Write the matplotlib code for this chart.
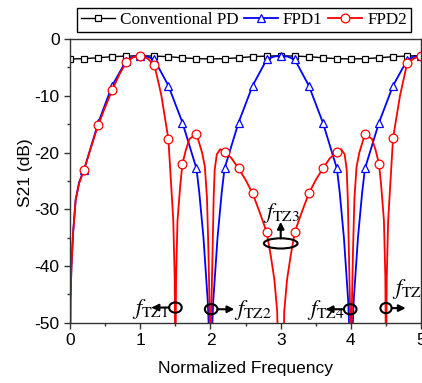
import numpy as np
import matplotlib
matplotlib.use("Agg")
import matplotlib.pyplot as plt
from matplotlib.patches import Ellipse
from matplotlib.ticker import MultipleLocator

plt.rcParams['mathtext.fontset'] = 'stix'
plt.rcParams['font.family'] = ['Liberation Sans', 'DejaVu Sans']
plt.rcParams['axes.unicode_minus'] = False

# Conventional PD, markers every 0.2
f_cpd = np.round(np.arange(0, 5.01, 0.2), 2)
s_cpd = [-3.5, -3.45, -3.3, -3.1, -3.0, -2.95, -3.0, -3.1, -3.3, -3.45,
         -3.5, -3.45, -3.3, -3.1, -3.0, -2.95, -3.0, -3.1, -3.3, -3.45,
         -3.5, -3.45, -3.3, -3.1, -3.0, -2.9]

# FPD1
f_fpd1 = [0, 0.006, 0.02, 0.043, 0.08, 0.13, 0.2, 0.4, 0.6, 0.8, 0.9, 1.0, 1.1, 1.2,
          1.4, 1.6, 1.8, 1.84, 1.9, 1.96, 1.99, 2.0, 2.01, 2.04, 2.1, 2.16, 2.2,
          2.4, 2.6, 2.8, 2.9, 3.0, 3.1, 3.2, 3.4, 3.6, 3.8, 3.84, 3.9, 3.96, 3.99,
          4.0, 4.01, 4.04, 4.1, 4.16, 4.2, 4.4, 4.6, 4.8, 4.9, 5.0]
s_fpd1 = [-60, -46, -40, -34.2, -28.3, -25.2, -23, -14.8, -8.2, -3.8, -3.1, -2.9, -3.1, -3.6,
          -8.2, -14.7, -22.8, -27, -35, -46, -55, -60, -55, -46, -35, -27, -22.8,
          -14.7, -8.2, -3.6, -3.1, -2.9, -3.1, -3.6, -8.2, -14.7, -22.8, -27, -35, -46, -55,
          -60, -55, -46, -35, -27, -22.8, -14.7, -8.2, -3.7, -3.1, -2.9]

# FPD2
f_fpd2 = [0, 0.006, 0.02, 0.043, 0.08, 0.13, 0.2, 0.3, 0.4, 0.5, 0.6, 0.7, 0.8, 0.9, 1.0,
          1.1, 1.2, 1.3, 1.4, 1.44, 1.47, 1.49, 1.5, 1.51, 1.53, 1.57, 1.6, 1.65, 1.7,
          1.8, 1.88, 1.92, 1.95, 1.97, 1.985, 2.0, 2.015, 2.03, 2.045, 2.06, 2.09, 2.14,
          2.2, 2.3, 2.4, 2.5, 2.6, 2.7, 2.8, 2.86, 2.91, 2.95, 2.97, 3.0, 3.03, 3.05,
          3.09, 3.14, 3.2, 3.3, 3.4, 3.5, 3.6, 3.7, 3.8, 3.86, 3.91, 3.94, 3.955, 3.97,
          3.985, 4.0, 4.015, 4.03, 4.05, 4.08, 4.12, 4.2, 4.3, 4.35, 4.4, 4.43, 4.47,
          4.49, 4.5, 4.51, 4.53, 4.56, 4.6, 4.7, 4.8, 4.9, 5.0]
s_fpd2 = [-60, -46, -40, -34.2, -28.3, -25.4, -23, -19, -15.2, -12, -9.0, -6.3, -4.1, -3.2, -3.0,
          -3.4, -4.5, -9.9, -17.6, -25.7, -32, -42, -60, -42, -32, -25.7, -22, -19.5, -17.6,
          -16.7, -20, -22.5, -28, -37, -46, -60, -46, -37, -28, -23, -20.3, -19.4,
          -19.9, -21, -22.8, -24.8, -27.2, -30.5, -34, -38.3, -42.4, -48, -60, -55, -60, -48,
          -42.4, -38.3, -34, -30.5, -27.2, -24.8, -22.8, -21, -19.9, -19.4, -20.3, -23, -28, -37,
          -46, -60, -46, -37, -28, -22.5, -20, -16.7, -17.6, -19.5, -22, -25.7, -32,
          -42, -60, -42, -32, -25.7, -17.4, -9.9, -4.3, -3.4, -3.0]

# transmission zero annotations: ellipse centre, size, arrow start/end, label position
tz_labels = [r'$f_{\mathrm{TZ1}}$', r'$f_{\mathrm{TZ2}}$', r'$f_{\mathrm{TZ3}}$',
             r'$f_{\mathrm{TZ4}}$', r'$f_{\mathrm{TZ5}}$']
tz_centre = [(1.5, -47.3), (2.01, -47.6), (3.0, -36.0), (3.99, -47.6), (4.5, -47.4)]
tz_size = [(0.18, 1.8), (0.18, 1.8), (0.48, 1.8), (0.18, 1.8), (0.16, 1.8)]
tz_arrow = [((1.41, -47.3), (1.16, -47.3)), ((2.1, -47.6), (2.34, -47.6)),
            ((3.0, -35.1), (3.0, -32.2)), ((3.9, -47.6), (3.64, -47.6)),
            ((4.58, -47.4), (4.78, -47.4))]
tz_text = [(0.88, -48.4), (2.34, -48.7), (2.75, -31.6), (3.38, -48.7), (4.58, -44.9)]

mark_idx = lambda f: [i for i, v in enumerate(f) if abs(v * 5 - round(v * 5)) < 1e-6]

fig = plt.figure(figsize=(4.22, 3.83), dpi=100)
ax = fig.add_axes([0.166, 0.157, 0.832, 0.741])

l1, = ax.plot(f_cpd, s_cpd, '-s', color='black', lw=1.0, ms=5,
              mfc='white', mec='black', mew=0.9, label='Conventional PD')
l2, = ax.plot(f_fpd1, s_fpd1, '-^', color='blue', lw=1.3, ms=6.3,
              mfc='white', mec='blue', mew=0.9, markevery=mark_idx(f_fpd1), label='FPD1')
l3, = ax.plot(f_fpd2, s_fpd2, '-o', color='red', lw=1.3, ms=6.3,
              mfc='white', mec='red', mew=0.9, markevery=mark_idx(f_fpd2), label='FPD2')

for lab, c, sz, ar, tp in zip(tz_labels, tz_centre, tz_size, tz_arrow, tz_text):
    ax.add_patch(Ellipse(c, sz[0], sz[1], fill=False, ec='black', lw=1.5, zorder=5))
    ax.annotate('', xy=ar[1], xytext=ar[0],
                arrowprops=dict(arrowstyle='-|>', color='black', lw=1.5,
                                mutation_scale=10, shrinkA=0, shrinkB=0), zorder=5)
    ax.text(tp[0], tp[1], lab, fontsize=16, color='black', zorder=6, clip_on=False)

ax.set_xlim(0, 5)
ax.set_ylim(-50, 0)
ax.xaxis.set_major_locator(MultipleLocator(1))
ax.xaxis.set_minor_locator(MultipleLocator(0.5))
ax.yaxis.set_major_locator(MultipleLocator(10))
ax.yaxis.set_minor_locator(MultipleLocator(5))
ax.tick_params(which='major', direction='out', length=4, width=1, labelsize=12.5,
               colors='#333333', labelcolor='black')
ax.tick_params(which='minor', direction='out', length=2.5, width=1, colors='#333333')
for sp in ax.spines.values():
    sp.set_color('#333333')
    sp.set_linewidth(1.0)

ax.set_xlabel('Normalized Frequency', fontsize=12.5, labelpad=9)
ax.set_ylabel('S21 (dB)', fontsize=12.5)
ax.yaxis.set_label_coords(-0.105, 0.53)

fig.legend(handles=[l1, l2, l3], loc='upper center', bbox_to_anchor=(0.578, 0.979),
           ncol=3, frameon=True, fancybox=False, edgecolor='black', framealpha=1,
           prop={'family': 'Liberation Serif', 'size': 12.3}, handlelength=2.0,
           handletextpad=0.3, columnspacing=0.3, borderpad=0.22, borderaxespad=0)

fig.savefig('out.png', dpi=100)
